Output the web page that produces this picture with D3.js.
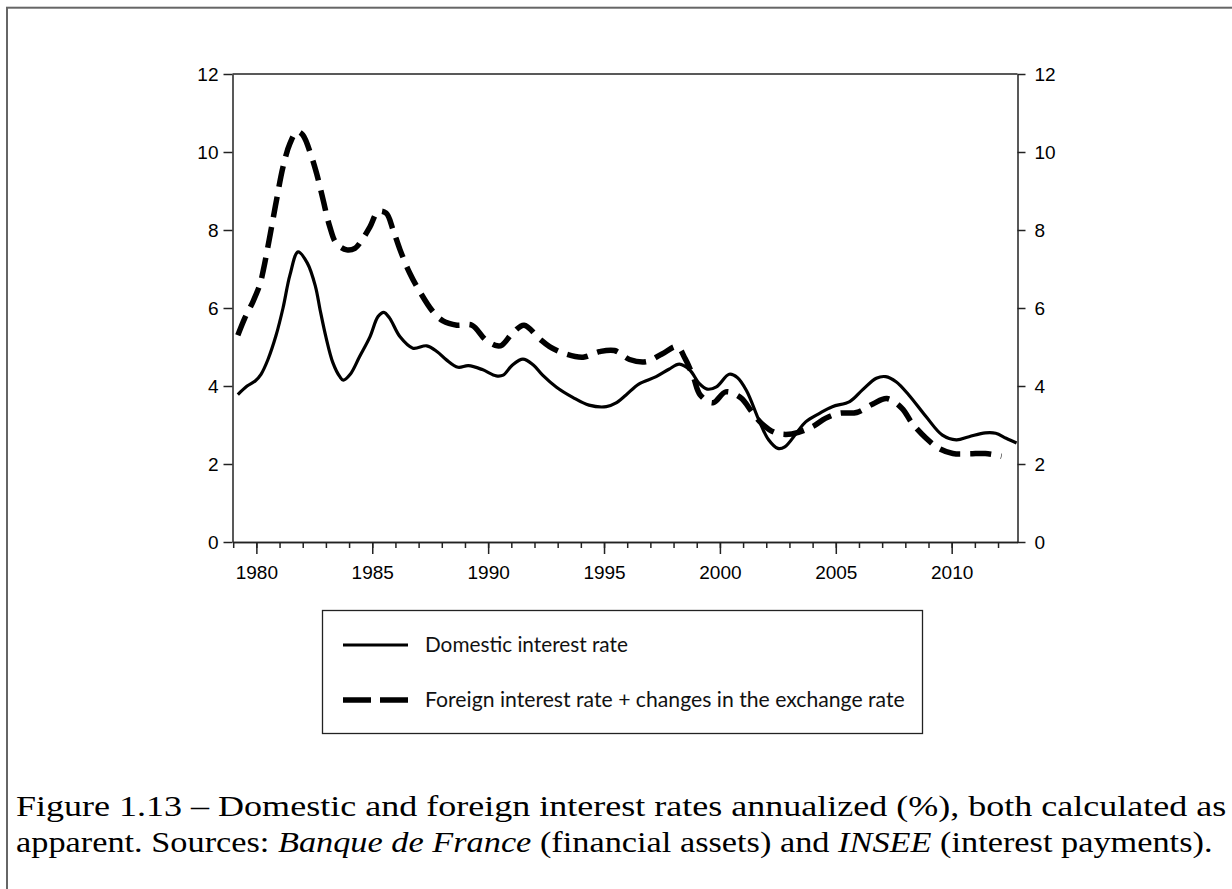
<!DOCTYPE html>
<html>
<head>
<meta charset="utf-8">
<script src="https://cdn.jsdelivr.net/npm/d3@7"></script>
<style>
  body { margin: 0; background: #fff; }
  svg { display: block; }
</style>
</head>
<body>
<svg id="drawing_region"></svg>
<script>
// values (quarterly-ish positions)
var domesticYears = [1979.2, 1979.6, 1979.95, 1980.2, 1980.5, 1980.85, 1981.15, 1981.45, 1981.8, 1982.2,
    1982.55, 1982.75, 1983.0, 1983.3, 1983.6, 1983.75, 1984.05, 1984.45, 1984.9, 1985.25,
    1985.5, 1985.75, 1986.2, 1986.75, 1987.35, 1987.8, 1988.2, 1988.7, 1989.15, 1989.75,
    1990.35, 1990.65, 1991.05, 1991.5, 1991.95, 1992.35, 1992.95, 1993.65, 1994.35, 1995.1,
    1995.5, 1995.95, 1996.5, 1997.25, 1997.8, 1998.25, 1998.7, 1999.1, 1999.45, 1999.85,
    2000.4, 2000.75, 2001.15, 2001.7, 2002.1, 2002.5, 2002.8, 2003.3, 2003.7, 2004.3,
    2004.85, 2005.6, 2006.15, 2006.75, 2007.15, 2007.6, 2008.15, 2008.9, 2009.6, 2010.2,
    2010.75, 2011.45, 2011.9, 2012.35, 2012.8];
var domesticRates = [3.78, 4.0, 4.13, 4.3, 4.68, 5.3, 6.0, 6.85, 7.44, 7.15,
    6.55, 5.95, 5.26, 4.6, 4.24, 4.15, 4.3, 4.75, 5.26, 5.78,
    5.89, 5.74, 5.26, 4.97, 5.03, 4.88, 4.67, 4.48, 4.52, 4.42,
    4.26, 4.28, 4.54, 4.69, 4.54, 4.28, 3.97, 3.71, 3.51, 3.47,
    3.56, 3.77, 4.05, 4.24, 4.43, 4.56, 4.41, 4.07, 3.92, 3.98,
    4.3, 4.22, 3.88, 3.1, 2.62, 2.4, 2.44, 2.79, 3.08, 3.3,
    3.47, 3.6, 3.9, 4.2, 4.24, 4.11, 3.77, 3.21, 2.74, 2.62,
    2.7, 2.8, 2.79, 2.66, 2.54];

var foreignYears = [1979.2, 1979.5, 1979.85, 1980.15, 1980.3, 1980.6, 1980.87, 1981.15, 1981.45, 1981.75,
    1982.0, 1982.38, 1982.6, 1982.88, 1983.17, 1983.45, 1983.9, 1984.25, 1984.55, 1984.9,
    1985.25, 1985.6, 1985.9, 1986.2, 1986.62, 1987.05, 1987.6, 1988.05, 1988.65, 1989.3,
    1989.9, 1990.4, 1990.6, 1991.05, 1991.55, 1992.2, 1992.65, 1993.35, 1994.1, 1994.8,
    1995.45, 1996.1, 1996.8, 1997.5, 1998.15, 1998.5, 1998.85, 1999.15, 1999.7, 2000.25,
    2000.9, 2001.4, 2001.8, 2002.4, 2003.1, 2004.0, 2004.55, 2005.15, 2005.9, 2006.6,
    2007.2, 2007.85, 2008.3, 2008.9, 2009.45, 2010.05, 2010.75, 2011.45, 2012.15];
var foreignRates = [5.3, 5.74, 6.16, 6.6, 6.97, 7.9, 8.77, 9.62, 10.22, 10.52,
    10.44, 9.88, 9.45, 8.77, 8.08, 7.66, 7.49, 7.53, 7.74, 8.08,
    8.47, 8.43, 8.0, 7.49, 6.89, 6.42, 5.92, 5.67, 5.56, 5.56,
    5.18, 5.03, 5.05, 5.35, 5.56, 5.22, 5.01, 4.82, 4.74, 4.88,
    4.91, 4.68, 4.62, 4.82, 5.01, 4.7, 4.24, 3.77, 3.57, 3.85,
    3.7, 3.32, 3.04, 2.8, 2.77, 2.96, 3.17, 3.3, 3.32, 3.54,
    3.68, 3.43, 3.04, 2.66, 2.4, 2.27, 2.26, 2.27, 2.2];

var xTickYears = [1980, 1985, 1990, 1995, 2000, 2005, 2010];
var minorYears = d3.range(1979, 2013);
var yTicks = [0, 2, 4, 6, 8, 10, 12];

var seriesNames = ['Domestic interest rate', 'Foreign interest rate + changes in the exchange rate'];

var width = 1232;
var height = 889;

var svg = d3.select('#drawing_region')
    .attr('width', width)
    .attr('height', height);

// outer frame of the figure page
svg.append('rect')
    .attr('x', 7).attr('y', 7.7)
    .attr('width', 1240).attr('height', 900)
    .attr('fill', 'none')
    .attr('stroke', '#666')
    .attr('stroke-width', 2);

var plotLeft = 232.5, plotRight = 1017.5, plotTop = 74, plotBottom = 542;

var x = d3.scaleLinear().domain([1978.97, 2012.84]).range([plotLeft, plotRight]);
var y = d3.scaleLinear().domain([0, 12]).range([plotBottom, plotTop]);

var axisColor = '#222';
var tickFont = '"Liberation Sans", Arial, sans-serif';

function styleAxis(g) {
    g.selectAll('path.domain').attr('stroke', axisColor).attr('stroke-width', 1.5);
    g.selectAll('.tick line').attr('stroke', axisColor).attr('stroke-width', 1.5);
    g.selectAll('.tick text').attr('fill', '#000')
        .style('font-family', tickFont).style('font-size', '19px');
}

// minor yearly ticks
svg.append('g')
    .attr('transform', `translate(0, ${plotBottom})`)
    .call(d3.axisBottom(x).tickValues(minorYears).tickSize(6).tickSizeOuter(0).tickFormat(''))
    .call(styleAxis);

// major ticks with labels
svg.append('g')
    .attr('transform', `translate(0, ${plotBottom})`)
    .call(d3.axisBottom(x).tickValues(xTickYears).tickSize(12).tickSizeOuter(0)
        .tickPadding(12).tickFormat(d3.format('d')))
    .call(styleAxis);

svg.append('g')
    .attr('transform', `translate(${plotLeft}, 0)`)
    .call(d3.axisLeft(y).tickValues(yTicks).tickSize(9).tickSizeOuter(0).tickPadding(5))
    .call(styleAxis);

svg.append('g')
    .attr('transform', `translate(${plotRight}, 0)`)
    .call(d3.axisRight(y).tickValues(yTicks).tickSize(8).tickSizeOuter(0).tickPadding(9))
    .call(styleAxis);

// top border of plot
svg.append('line')
    .attr('x1', plotLeft).attr('x2', plotRight)
    .attr('y1', plotTop).attr('y2', plotTop)
    .attr('stroke', axisColor).attr('stroke-width', 1.5);

var line = d3.line()
    .x(d => x(d[0]))
    .y(d => y(d[1]))
    .curve(d3.curveCatmullRom.alpha(0.5));

var domestic = d3.zip(domesticYears, domesticRates);
var foreign = d3.zip(foreignYears, foreignRates);

svg.append('path')
    .datum(foreign)
    .attr('d', line)
    .attr('fill', 'none')
    .attr('stroke', '#000')
    .attr('stroke-width', 5.5)
    .attr('stroke-dasharray', '21,10');

svg.append('path')
    .datum(domestic)
    .attr('d', line)
    .attr('fill', 'none')
    .attr('stroke', '#000')
    .attr('stroke-width', 3.2)
    .attr('stroke-linejoin', 'round');

// squeeze or stretch a text element horizontally to a target width
function fitWidth(sel, target, x0) {
    var w = sel.node().getBBox().width;
    var s = target / w;
    sel.attr('transform', `translate(${x0},0) scale(${s},1) translate(${-x0},0)`);
}

// legend
var legend = svg.append('g');
legend.append('rect')
    .attr('x', 322.5).attr('y', 610.5)
    .attr('width', 600).attr('height', 123)
    .attr('fill', '#fff')
    .attr('stroke', axisColor)
    .attr('stroke-width', 1.3);

legend.append('line')
    .attr('x1', 343).attr('x2', 408)
    .attr('y1', 645).attr('y2', 645)
    .attr('stroke', '#000').attr('stroke-width', 3.2);

legend.append('line')
    .attr('x1', 343).attr('x2', 408)
    .attr('y1', 700).attr('y2', 700)
    .attr('stroke', '#000').attr('stroke-width', 5.5)
    .attr('stroke-dasharray', '28,9');

var legendWidths = [203, 480];
seriesNames.forEach(function(name, i) {
    var t = legend.append('text')
        .attr('x', 425)
        .attr('y', 652 + i * 55)
        .text(name)
        .style('font-family', 'Lato, sans-serif')
        .style('font-size', '22px')
        .style('fill', '#111');
    fitWidth(t, legendWidths[i], 425);
});

// caption
var capFont = '"Liberation Serif", "Times New Roman", serif';
var cap1 = svg.append('text')
    .attr('x', 16).attr('y', 816)
    .style('font-family', capFont).style('font-size', '30px').style('fill', '#000')
    .text('Figure 1.13 \u2013 Domestic and foreign interest rates annualized (%), both calculated as');
fitWidth(cap1, 1211, 16);

var cap2 = svg.append('text')
    .attr('x', 16).attr('y', 852)
    .style('font-family', capFont).style('font-size', '30px').style('fill', '#000');
cap2.append('tspan').text('apparent. Sources: ');
cap2.append('tspan').style('font-style', 'italic').text('Banque de France');
cap2.append('tspan').text(' (financial assets) and ');
cap2.append('tspan').style('font-style', 'italic').text('INSEE');
cap2.append('tspan').text(' (interest payments).');
fitWidth(cap2, 1197, 16);
</script>
</body>
</html>
